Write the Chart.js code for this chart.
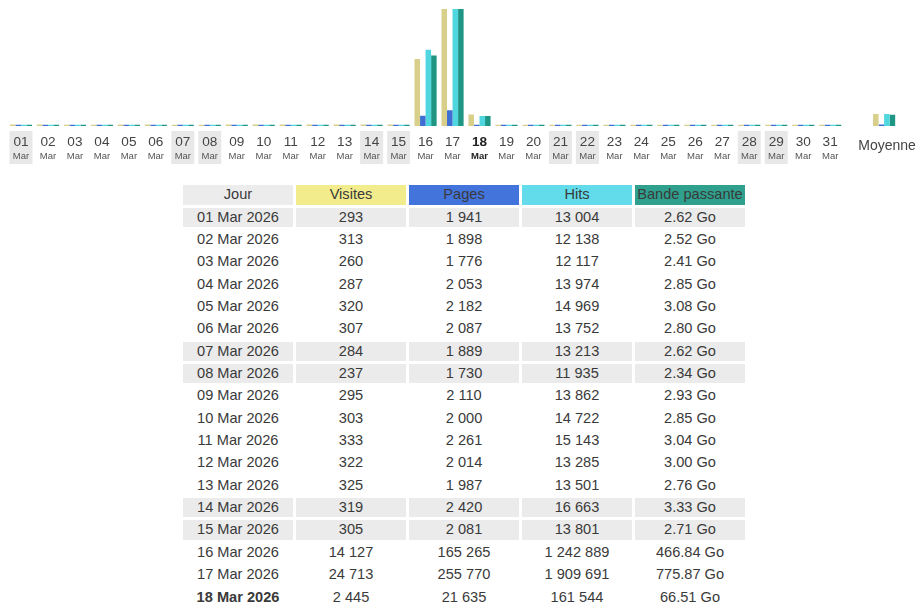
<!DOCTYPE html>
<html>
<head>
<meta charset="utf-8">
<script src="https://cdn.jsdelivr.net/npm/chart.js@4/dist/chart.umd.min.js"></script>
<style>
  html, body { margin: 0; padding: 0; background: #fff; width: 917px; height: 606px; overflow: hidden; }
  body { position: relative; font-family: "Liberation Sans", Arial, sans-serif; color: #3a3a3a; }
  #chartBox { position: absolute; left: 0; top: 0; width: 917px; height: 170px; }
  #tbl { position: absolute; left: 180px; top: 182px; border-collapse: separate; border-spacing: 3px; font-size: 14.6px; }
  #tbl td, #tbl th { width: 110px; min-width: 110px; max-width: 110px; height: 19.35px; padding: 0; text-align: center; font-weight: normal; line-height: 19px; box-sizing: border-box; white-space: nowrap; overflow: hidden; }
  #tbl th { height: 19.5px; }
  .we td { background: #ebebeb; }
</style>
</head>
<body>
<div id="chartBox"><canvas id="c"></canvas></div>
<table id="tbl"></table>
<script>
// ---- data ----
const days = ['01','02','03','04','05','06','07','08','09','10','11','12','13','14','15','16','17','18','19','20','21','22','23','24','25','26','27','28','29','30','31'];
const monthLabel = 'Mar';
const weekendDays = ['01','07','08','14','15','21','22','28','29'];
const currentDay = '18';
const visits = [293,313,260,287,320,307,284,237,295,303,333,322,325,319,305,14127,24713,2445,0,0,0,0,0,0,0,0,0,0,0,0,0];
const pages  = [1941,1898,1776,2053,2182,2087,1889,1730,2110,2000,2261,2014,1987,2420,2081,165265,255770,21635,0,0,0,0,0,0,0,0,0,0,0,0,0];
const hits   = [13004,12138,12117,13974,14969,13752,13213,11935,13862,14722,15143,13285,13501,16663,13801,1242889,1909691,161544,0,0,0,0,0,0,0,0,0,0,0,0,0];
const bandwidthGo = [2.62,2.52,2.41,2.85,3.08,2.80,2.62,2.34,2.93,2.85,3.04,3.00,2.76,3.33,2.71,466.84,775.87,66.51,0,0,0,0,0,0,0,0,0,0,0,0,0];
const avgLabel = 'Moyenne';
const avgVisits = 2544;
const avgPages = 26283;
const avgHits = 195567;
const avgBandwidthGo = 75.06;
const seriesNames = ['Visites','Pages','Hits','Bande passante'];
const tableHeaders = ['Jour','Visites','Pages','Hits','Bande passante'];
const year = '2026';

// ---- chart ----
const colors = { v: '#d8cf8a', p: '#3f6fd2', h: '#4fd6de', k: '#1f9683' };
const labels = days.concat(['', avgLabel]);
const ext = (arr, avg) => arr.concat([null, avg]);

const labelPlugin = {
  id: 'dayLabels',
  afterDraw(chart) {
    const ctx = chart.ctx;
    const xs = chart.scales.x;
    ctx.save();
    ctx.textAlign = 'center';
    ctx.textBaseline = 'middle';
    days.forEach((d, i) => {
      const x = xs.getPixelForValue(i);
      if (weekendDays.includes(d)) {
        ctx.fillStyle = '#e8e8e8';
        ctx.fillRect(x - 11.5, 131, 23, 33);
      }
      const bold = d === currentDay;
      ctx.fillStyle = bold ? '#222' : '#444';
      ctx.font = (bold ? 'bold ' : '') + '13.6px "Liberation Sans", Arial, sans-serif';
      ctx.fillText(d, x, 142);
      ctx.fillStyle = bold ? '#222' : '#555';
      ctx.font = (bold ? 'bold ' : '') + '9.5px "Liberation Sans", Arial, sans-serif';
      ctx.fillText(monthLabel, x, 156);
    });
    const xa = xs.getPixelForValue(labels.length - 1);
    ctx.fillStyle = '#444';
    ctx.font = '14px "Liberation Sans", Arial, sans-serif';
    ctx.fillText(avgLabel, xa + 3, 146);
    ctx.restore();
  }
};

new Chart(document.getElementById('c'), {
  type: 'bar',
  data: {
    labels: labels,
    datasets: [
      { label: seriesNames[0], data: ext(visits, avgVisits), backgroundColor: colors.v, yAxisID: 'yV' },
      { label: seriesNames[1], data: ext(pages, avgPages), backgroundColor: colors.p, yAxisID: 'yPH' },
      { label: seriesNames[2], data: ext(hits, avgHits), backgroundColor: colors.h, yAxisID: 'yPH' },
      { label: seriesNames[3], data: ext(bandwidthGo, avgBandwidthGo), backgroundColor: colors.k, yAxisID: 'yK' }
    ]
  },
  options: {
    responsive: true,
    maintainAspectRatio: false,
    animation: false,
    layout: { padding: { left: 7.5, right: 19.4, top: 9, bottom: 44 } },
    datasets: { bar: { categoryPercentage: 0.82, barPercentage: 1.0, minBarLength: 1.2, borderWidth: 0 } },
    plugins: { legend: { display: false }, tooltip: { enabled: false } },
    scales: {
      x: { display: false, offset: true, grid: { display: false } },
      yV: { display: false, min: 0, max: Math.max(...visits) },
      yPH: { display: false, min: 0, max: Math.max(...hits) },
      yK: { display: false, min: 0, max: Math.max(...bandwidthGo) }
    }
  },
  plugins: [labelPlugin]
});

// ---- table ----
const fmt = n => String(n).replace(/\B(?=(\d{3})+(?!\d))/g, ' ');
const tbl = document.getElementById('tbl');
const headBg = ['#ececec', '#f2ec8c', '#4274dc', '#62dbea', '#2fa08e'];
let html = '<tr>' + tableHeaders.map((h, i) => `<th style="background:${headBg[i]}">${h}</th>`).join('') + '</tr>';
days.forEach((d, i) => {
  const cls = weekendDays.includes(d) ? ' class="we"' : '';
  const dayTxt = `${d} ${monthLabel} ${year}`;
  const first = d === currentDay ? `<b>${dayTxt}</b>` : dayTxt;
  html += `<tr${cls}><td>${first}</td><td>${fmt(visits[i])}</td><td>${fmt(pages[i])}</td><td>${fmt(hits[i])}</td><td>${bandwidthGo[i].toFixed(2)} Go</td></tr>`;
});
tbl.innerHTML = html;
</script>
</body>
</html>
